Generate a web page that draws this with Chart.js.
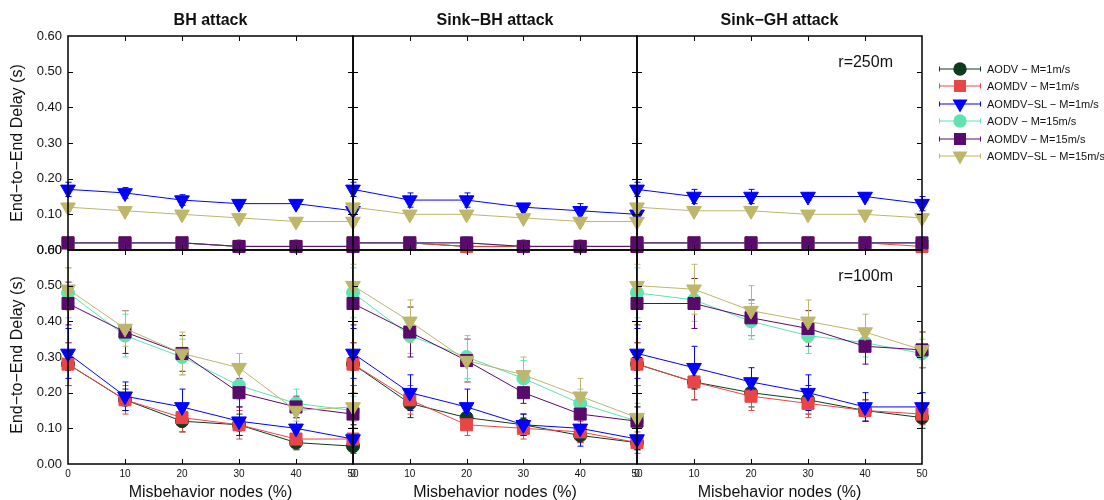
<!DOCTYPE html>
<html>
<head>
<meta charset="utf-8">
<script src="https://cdn.jsdelivr.net/npm/chart.js@4.4.1/dist/chart.umd.min.js"></script>
<style>
  html, body { margin: 0; padding: 0; background: #fff; }
  #fig { position: relative; width: 1104px; height: 500px; overflow: hidden;
         font-family: 'Liberation Sans', Arial, sans-serif; color: #111; }
  #fig canvas { position: absolute; }
  .txt { position: absolute; white-space: nowrap; line-height: 1; }
  .title { font-weight: bold; font-size: 16px; transform: translate(-50%, -50%); }
  .xlab { font-size: 16px; transform: translate(-50%, -50%); }
  .ylab { font-size: 16px; transform: translate(-50%, -50%) rotate(-90deg); }
  .rlab { font-size: 16px; transform: translate(-100%, -50%); }
  .leg { position: absolute; height: 18px; display: flex; align-items: center; font-size: 11px; white-space: nowrap; }
  .leg span { margin-left: 4px; }
</style>
</head>
<body>
<div id="fig"></div>
<script>
'use strict';

// ---- data ----
var X_PCT = [0, 10, 20, 30, 40, 50];
var Y_TICKS = [0, 0.1, 0.2, 0.3, 0.4, 0.5, 0.6];
var ATTACKS = ['BH attack', 'Sink\u2212BH attack', 'Sink\u2212GH attack'];
var RANGES = ['r=250m', 'r=100m'];
var SERIES_NAMES = ['AODV \u2212 M=1m/s', 'AOMDV \u2212 M=1m/s', 'AOMDV\u2212SL \u2212 M=1m/s',
                    'AODV \u2212 M=15m/s', 'AOMDV \u2212 M=15m/s', 'AOMDV\u2212SL \u2212 M=15m/s'];
var SERIES_COLORS = ['#0c3b20', '#e84646', '#0000ff', '#5fe3b0', '#5a0a6a', '#bdb66b'];
var SERIES_SHAPES = ['circle', 'rect', 'triangle', 'circle', 'rect', 'triangle'];

// r=250m, rows: AODV1, AOMDV1, SL1, AODV15, AOMDV15, SL15
var BH_R250 = [
    [0.02, 0.02, 0.02, 0.01, 0.01, 0.01],
    [0.02, 0.02, 0.02, 0.01, 0.01, 0.01],
    [0.17, 0.16, 0.14, 0.13, 0.13, 0.11],
    [0.02, 0.02, 0.02, 0.01, 0.01, 0.01],
    [0.02, 0.02, 0.02, 0.01, 0.01, 0.01],
    [0.12, 0.11, 0.10, 0.09, 0.08, 0.08]
];
var BH_R250_ERR = [
    [0.005, 0.005, 0.005, 0.005, 0.005, 0.005],
    [0.005, 0.005, 0.005, 0.005, 0.005, 0.005],
    [0.02, 0.015, 0.015, 0.01, 0.01, 0.02],
    [0.005, 0.005, 0.005, 0.005, 0.005, 0.005],
    [0.005, 0.005, 0.005, 0.005, 0.005, 0.005],
    [0.01, 0.01, 0.01, 0.01, 0.01, 0.01]
];
var SINKBH_R250 = [
    [0.02, 0.02, 0.01, 0.01, 0.01, 0.01],
    [0.02, 0.02, 0.01, 0.01, 0.01, 0.01],
    [0.17, 0.14, 0.14, 0.12, 0.11, 0.10],
    [0.02, 0.02, 0.02, 0.01, 0.01, 0.01],
    [0.02, 0.02, 0.02, 0.01, 0.01, 0.01],
    [0.12, 0.10, 0.10, 0.09, 0.08, 0.08]
];
var SINKBH_R250_ERR = [
    [0.005, 0.005, 0.005, 0.005, 0.005, 0.005],
    [0.005, 0.005, 0.005, 0.005, 0.005, 0.005],
    [0.02, 0.02, 0.02, 0.01, 0.02, 0.01],
    [0.005, 0.005, 0.005, 0.005, 0.005, 0.005],
    [0.005, 0.005, 0.005, 0.005, 0.005, 0.005],
    [0.01, 0.01, 0.01, 0.01, 0.01, 0.01]
];
var SINKGH_R250 = [
    [0.02, 0.02, 0.02, 0.02, 0.02, 0.02],
    [0.02, 0.02, 0.02, 0.02, 0.02, 0.01],
    [0.17, 0.15, 0.15, 0.15, 0.15, 0.13],
    [0.02, 0.02, 0.02, 0.02, 0.02, 0.02],
    [0.02, 0.02, 0.02, 0.02, 0.02, 0.02],
    [0.12, 0.11, 0.11, 0.10, 0.10, 0.09]
];
var SINKGH_R250_ERR = [
    [0.005, 0.005, 0.005, 0.005, 0.005, 0.005],
    [0.005, 0.005, 0.005, 0.005, 0.005, 0.005],
    [0.02, 0.02, 0.02, 0.01, 0.01, 0.02],
    [0.005, 0.005, 0.005, 0.005, 0.005, 0.005],
    [0.005, 0.005, 0.005, 0.005, 0.005, 0.005],
    [0.01, 0.01, 0.01, 0.01, 0.01, 0.01]
];

// r=100m
var BH_R100 = [
    [0.28, 0.18, 0.12, 0.11, 0.06, 0.05],
    [0.28, 0.18, 0.13, 0.11, 0.07, 0.07],
    [0.31, 0.19, 0.16, 0.12, 0.10, 0.07],
    [0.48, 0.36, 0.30, 0.22, 0.17, 0.15],
    [0.45, 0.37, 0.31, 0.20, 0.16, 0.14],
    [0.49, 0.38, 0.31, 0.27, 0.15, 0.16]
];
var BH_R100_ERR = [
    [0.06, 0.03, 0.03, 0.03, 0.02, 0.02],
    [0.06, 0.04, 0.04, 0.04, 0.03, 0.03],
    [0.07, 0.04, 0.05, 0.04, 0.03, 0.03],
    [0.07, 0.06, 0.05, 0.04, 0.04, 0.04],
    [0.06, 0.06, 0.05, 0.04, 0.03, 0.03],
    [0.06, 0.05, 0.06, 0.04, 0.03, 0.04]
];
var SINKBH_R100 = [
    [0.28, 0.17, 0.13, 0.11, 0.08, 0.06],
    [0.28, 0.18, 0.11, 0.10, 0.09, 0.06],
    [0.31, 0.20, 0.16, 0.11, 0.10, 0.07],
    [0.48, 0.36, 0.30, 0.24, 0.17, 0.12],
    [0.45, 0.37, 0.29, 0.20, 0.14, 0.12],
    [0.50, 0.40, 0.29, 0.25, 0.19, 0.13]
];
var SINKBH_R100_ERR = [
    [0.06, 0.04, 0.03, 0.03, 0.02, 0.02],
    [0.06, 0.04, 0.03, 0.03, 0.03, 0.03],
    [0.07, 0.05, 0.05, 0.03, 0.05, 0.03],
    [0.07, 0.05, 0.06, 0.05, 0.04, 0.04],
    [0.06, 0.07, 0.06, 0.03, 0.03, 0.04],
    [0.06, 0.06, 0.06, 0.05, 0.05, 0.04]
];
var SINKGH_R100 = [
    [0.28, 0.23, 0.20, 0.18, 0.15, 0.13],
    [0.28, 0.23, 0.19, 0.17, 0.15, 0.14],
    [0.31, 0.27, 0.23, 0.20, 0.16, 0.16],
    [0.48, 0.46, 0.40, 0.36, 0.34, 0.31],
    [0.45, 0.45, 0.41, 0.38, 0.33, 0.32],
    [0.50, 0.49, 0.43, 0.40, 0.37, 0.32]
];
var SINKGH_R100_ERR = [
    [0.06, 0.05, 0.04, 0.04, 0.03, 0.03],
    [0.06, 0.05, 0.04, 0.04, 0.03, 0.03],
    [0.07, 0.06, 0.04, 0.05, 0.04, 0.04],
    [0.07, 0.06, 0.05, 0.05, 0.04, 0.04],
    [0.06, 0.07, 0.05, 0.05, 0.05, 0.05],
    [0.06, 0.07, 0.07, 0.06, 0.05, 0.05]
];

var PANELS = [
    [BH_R250, BH_R250_ERR], [SINKBH_R250, SINKBH_R250_ERR], [SINKGH_R250, SINKGH_R250_ERR],
    [BH_R100, BH_R100_ERR], [SINKBH_R100, SINKBH_R100_ERR], [SINKGH_R100, SINKGH_R100_ERR]
];

// ---- layout ----
var PLOT_LEFT = [68, 353, 637];
var PLOT_WIDTH = [285, 284, 285];
var PLOT_TOP = [36, 250];
var PLOT_HEIGHT = 214;
var M = 14;
var FONT = "'Liberation Sans', Arial, sans-serif";

Chart.defaults.font.family = FONT;
Chart.defaults.color = '#111';

var fig = document.getElementById('fig');

// vertical error bars with caps, under the markers
var errorBars = {
    id: 'errorBars',
    beforeDatasetsDraw: function (chart) {
        var ctx = chart.ctx, ys = chart.scales.y;
        chart.data.datasets.forEach(function (ds, i) {
            var meta = chart.getDatasetMeta(i);
            ctx.save();
            ctx.strokeStyle = ds.borderColor;
            ctx.lineWidth = 1;
            ctx.beginPath();
            meta.data.forEach(function (pt, j) {
                var v = ds.data[j].y, e = ds.errors[j];
                var top = ys.getPixelForValue(v + e), bot = ys.getPixelForValue(v - e);
                var x = Math.round(pt.x) + 0.5;
                ctx.moveTo(x, top); ctx.lineTo(x, bot);
                ctx.moveTo(x - 3, top); ctx.lineTo(x + 3, top);
                ctx.moveTo(x - 3, bot); ctx.lineTo(x + 3, bot);
            });
            ctx.stroke();
            ctx.restore();
        });
    }
};

// box frame with inward ticks on every side
var frame = {
    id: 'frame',
    afterDatasetsDraw: function (chart) {
        var a = chart.chartArea, ctx = chart.ctx, xs = chart.scales.x, ys = chart.scales.y;
        ctx.save();
        ctx.strokeStyle = '#000';
        ctx.lineWidth = 1.5;
        ctx.strokeRect(a.left, a.top, a.right - a.left, a.bottom - a.top);
        ctx.lineWidth = 1;
        ctx.beginPath();
        X_PCT.slice(1, -1).forEach(function (v) {
            var px = Math.round(xs.getPixelForValue(v)) + 0.5;
            ctx.moveTo(px, a.top); ctx.lineTo(px, a.top + 5);
            ctx.moveTo(px, a.bottom); ctx.lineTo(px, a.bottom - 5);
        });
        Y_TICKS.slice(1, -1).forEach(function (v) {
            var py = Math.round(ys.getPixelForValue(v)) + 0.5;
            ctx.moveTo(a.left, py); ctx.lineTo(a.left + 5, py);
            ctx.moveTo(a.right, py); ctx.lineTo(a.right - 5, py);
        });
        ctx.stroke();
        ctx.restore();
    }
};

function buildPanel(row, col) {
    var vals = PANELS[row * 3 + col][0], errs = PANELS[row * 3 + col][1];
    var left = col === 0 ? PLOT_LEFT[0] : M;
    var bottom = row === 1 ? 500 - PLOT_TOP[1] - PLOT_HEIGHT : M;

    var canvas = document.createElement('canvas');
    var w = left + PLOT_WIDTH[col] + M, h = M + PLOT_HEIGHT + bottom;
    canvas.width = w; canvas.height = h;
    canvas.style.width = w + 'px'; canvas.style.height = h + 'px';
    canvas.style.left = (PLOT_LEFT[col] - left) + 'px';
    canvas.style.top = (PLOT_TOP[row] - M) + 'px';
    fig.appendChild(canvas);

    var datasets = vals.map(function (series, i) {
        return {
            label: SERIES_NAMES[i],
            data: series.map(function (v, j) { return { x: X_PCT[j], y: v }; }),
            errors: errs[i],
            borderColor: SERIES_COLORS[i],
            backgroundColor: SERIES_COLORS[i],
            borderWidth: 1,
            pointStyle: SERIES_SHAPES[i],
            pointRotation: SERIES_SHAPES[i] === 'triangle' ? 180 : 0,
            pointRadius: SERIES_SHAPES[i] === 'circle' ? 6.5 : 8.5,
            pointBorderWidth: 1,
            pointBorderColor: SERIES_COLORS[i],
            pointBackgroundColor: SERIES_COLORS[i],
            tension: 0,
            clip: false,
            order: vals.length - i
        };
    });

    // the axes always take the fixed margins (even when hidden), so padding is 0 on those sides
    new Chart(canvas, {
        type: 'line',
        data: { datasets: datasets },
        options: {
            responsive: false,
            animation: false,
            events: [],
            layout: { padding: { left: 0, top: M, right: M, bottom: 0 } },
            plugins: { legend: { display: false }, tooltip: { enabled: false } },
            scales: {
                x: {
                    type: 'linear', min: 0, max: 50,
                    display: row === 1,
                    afterBuildTicks: function (s) { s.ticks = X_PCT.map(function (v) { return { value: v }; }); },
                    afterFit: function (s) { s.height = bottom; },
                    grid: { display: false, drawTicks: false },
                    border: { display: false },
                    ticks: { font: { size: 10 }, padding: 4, maxRotation: 0, color: '#111' }
                },
                y: {
                    type: 'linear', min: 0, max: 0.6,
                    display: col === 0,
                    afterBuildTicks: function (s) { s.ticks = Y_TICKS.map(function (v) { return { value: v }; }); },
                    afterFit: function (s) { s.width = left; },
                    grid: { display: false, drawTicks: false },
                    border: { display: false },
                    ticks: { font: { size: 13 }, padding: 6, color: '#111',
                             callback: function (v) { return Number(v).toFixed(2); } }
                }
            }
        },
        plugins: [errorBars, frame]
    });
}

[0, 1].forEach(function (row) {
    [0, 1, 2].forEach(function (col) { buildPanel(row, col); });
});

// ---- text ----
function addText(cls, text, x, y) {
    var d = document.createElement('div');
    d.className = 'txt ' + cls;
    d.textContent = text;
    d.style.left = x + 'px';
    d.style.top = y + 'px';
    fig.appendChild(d);
}

ATTACKS.forEach(function (t, c) {
    var cx = PLOT_LEFT[c] + PLOT_WIDTH[c] / 2;
    addText('title', t, cx, 20);
    addText('xlab', 'Misbehavior nodes (%)', cx, 492);
});
addText('ylab', 'End\u2212to\u2212End Delay (s)', 17, 143);
addText('ylab', 'End\u2212to\u2212End Delay (s)', 17, 355);
addText('rlab', RANGES[0], 893, 62);
addText('rlab', RANGES[1], 893, 276);

// ---- legend ----
SERIES_NAMES.forEach(function (name, i) {
    var c = SERIES_COLORS[i], shape;
    if (SERIES_SHAPES[i] === 'circle') shape = '<circle cx="23" cy="9" r="6.7" fill="' + c + '"/>';
    else if (SERIES_SHAPES[i] === 'rect') shape = '<rect x="17" y="3" width="12" height="12" fill="' + c + '"/>';
    else shape = '<polygon points="15.5,4.5 30.5,4.5 23,17.5" fill="' + c + '"/>';

    var row = document.createElement('div');
    row.className = 'leg';
    row.style.left = '937px';
    row.style.top = (69 + i * 17.4 - 9) + 'px';
    row.innerHTML = '<svg width="46" height="18">' +
        '<path d="M2.5 9 H43.5 M2.5 6.5 V11.5 M43.5 6.5 V11.5" stroke="' + c + '" stroke-width="1" fill="none"/>' +
        shape + '</svg><span>' + name + '</span>';
    fig.appendChild(row);
});
</script>
</body>
</html>
